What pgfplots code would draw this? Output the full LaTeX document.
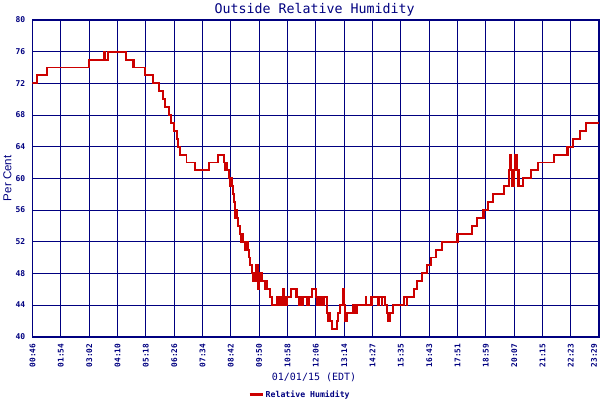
\documentclass[border=0pt]{standalone}
\usepackage{fontspec}
\usepackage{pgfplots}
\pgfplotsset{compat=1.18}
\newfontfamily\pix{DejaVu Sans Mono}
\newfontfamily\lsans{Liberation Sans}
\definecolor{navy}{RGB}{0,0,128}
\definecolor{hred}{RGB}{204,0,0}
\begin{document}
\begin{tikzpicture}
\useasboundingbox (-32.5pt,-63.3pt) rectangle (567.5pt,336.7pt);
\begin{axis}[
  at={(0,0)}, anchor=south west,
  scale only axis, width=566.5pt, height=316.7pt,
  xmin=32.5, xmax=599, ymin=40, ymax=80,
  xtick={32.5,60.83,89.17,117.5,145.83,174.17,202.5,230.83,259.17,287.5,315.83,344.17,372.5,400.83,429.17,457.5,485.83,514.17,542.5,570.83},
  xticklabels={00:46,01:54,03:02,04:10,05:18,06:26,07:34,08:42,09:50,10:58,12:06,13:14,14:27,15:35,16:43,17:51,18:59,20:07,21:15,22:23},
  extra x ticks={594},
  extra x tick labels={23:29},
  extra x tick style={grid=none},
  ytick={40,44,...,80},
  /pgf/number format/assume math mode=true,
  major tick length=0pt,
  grid=major,
  major grid style={navy, line width=1pt},
  axis line style={navy, line width=1.6pt},
  xticklabel style={rotate=90, anchor=east, font=\pix\bfseries\fontsize{7.8}{8}\selectfont, text=navy},
  yticklabel style={font=\pix\bfseries\fontsize{8}{8}\selectfont, text=navy},
  xticklabel shift=3.5pt, yticklabel shift=3.8pt,
  every axis title shift=0pt,
  title={Outside Relative Humidity},
  title style={at={(axis description cs:0.498,1.0332)}, anchor=center, font=\pix\fontsize{13.3}{14}\selectfont, text=navy},
  xlabel={01/01/15 (EDT)},
  xlabel style={at={(axis description cs:0.497,-0.1295)}, anchor=center, font=\pix\fontsize{10}{11}\selectfont, text=navy},
  ylabel={Per Cent},
  ylabel style={at={(axis description cs:-0.0441,0.5)}, anchor=center, font=\lsans\fontsize{11.5}{12}\selectfont, text=navy},
  legend style={at={(axis description cs:0.4722,-0.183)}, anchor=center, draw=none, fill=none, font=\pix\bfseries\fontsize{8.2}{9}\selectfont, text=navy, inner sep=0pt},
  legend image code/.code={\draw[line width=2.4pt, draw=hred] (0pt,0pt) -- (13pt,0pt);},
]
\addplot[const plot, hred, line width=1.9pt] table {
x y
32.5 72
37.3 73
46.7 74
89.3 75
104 76
105.3 75
107.7 76
126 75
132.7 74
133.3 75
134 74
145 73
153.3 72
159 71
163.3 70
165.3 69
169.3 68
171 67
174.3 66
176.7 65
178.3 64
180.3 63
186.5 62
195 61
209.3 62
218 63
224 62
225.3 61
226 62
227 61
229.3 60
230.3 59
231 60
232 59
233.3 58
234 57
235.3 55
236 56
236.7 55
238.3 54
240 53
240.7 52
241.3 53
242 52
242.7 53
243.3 52
245 51
245.7 52
248.3 51
249.3 50
250 49
251.7 48
253.3 47
255 48
255.7 49
256.3 47
257 49
257.7 48
258.3 46
259 47
260 48
260.7 47
261.3 48
262 47
265 46
265.7 47
266.7 46
270 45
271.7 44
276.7 45
277.3 44
278.3 45
279 44
280 45
280.7 44
283.3 46
284 45
285 44
285.7 45
286.7 44
287.3 45
290.7 46
296 45
296.7 46
297.3 45
299 44
299.7 45
300.7 44
301.3 45
302 44
302.7 45
306.7 44
307.3 45
308.3 44
309 45
311.7 46
315.7 45
316.7 44
317.3 45
318.3 44
319 45
320 44
320.7 45
321.7 44
322.3 45
323.3 44
324 45
326.7 44
327.3 43
328.3 42
329 43
330 42
331.7 41
336.7 42
338.3 43
340 44
343.3 46
344 44
345.3 42
346 43
346.7 42
347.3 43
352.7 44
353.3 43
354.7 44
355.3 43
356 44
356.7 43
357.3 44
365.7 45
366.3 44
371 45
371.7 44
372.3 45
378.3 44
379 45
381.7 44
382.3 45
385 44
386.7 43
388.3 42
389 43
389.7 42
390.3 43
393.3 44
404 45
406.7 44
407.3 45
414 46
417.3 47
421.7 48
426.7 49
430.7 50
436 51
441.7 52
457.3 53
457.7 52
458.3 53
471.7 54
477.3 55
482.7 56
483.3 55
484 56
488.3 57
493.3 58
503.7 59
509.3 61
509.7 63
510.3 61
510.7 63
511.3 61
511.7 59
512.3 61
512.7 59
514.3 61
514.7 63
515.3 61
515.7 63
516.3 61
516.7 63
517.3 61
518 59
519 61
519.5 59
522.7 60
531.3 61
538 62
553.7 63
566.7 64
567.3 63
568 64
572.7 65
579.7 66
585.8 67
598.5 67
};
\addlegendentry{Relative Humidity}
\end{axis}
\end{tikzpicture}
\end{document}
